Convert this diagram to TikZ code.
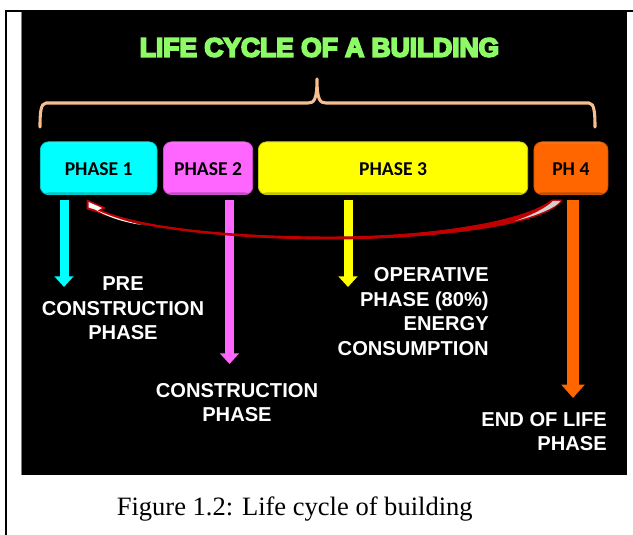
\documentclass[tikz,border=0pt]{standalone}
\usepackage{fontspec}
\setmainfont{Liberation Serif}
\newfontfamily\labelfont{Liberation Sans}
\newfontfamily\boxfont{Carlito}
\newfontfamily\titlefont[BoldFeatures={FakeBold=7}]{Liberation Sans}
\usetikzlibrary{arrows.meta,positioning}
\definecolor{cyanbox}{HTML}{00FFFF}
\definecolor{pinkbox}{HTML}{FF66FF}
\definecolor{yellowbox}{HTML}{FFFF00}
\definecolor{orangebox}{HTML}{FF6600}
\definecolor{titlegreen}{HTML}{8CFB66}
\definecolor{bracecol}{HTML}{F9BE8D}
\definecolor{curvered}{HTML}{C00000}
\tikzset{
  x=0.75pt,y=-0.75pt,
  phasebox/.style={draw=#1!80!black,line width=0.6pt,fill=#1,rounded corners=6pt,
    minimum height=39.5pt,inner sep=0pt,anchor=north west,text=black,
    path picture={
      \fill[#1!75!black] ([yshift=1.6pt]path picture bounding box.south west) rectangle (path picture bounding box.south east);
      \fill[#1!80!white] ([yshift=-1.2pt]path picture bounding box.north west) rectangle (path picture bounding box.north east);
    },
    font=\boxfont\bfseries\fontsize{14.7}{17}\selectfont},
  downarrow/.style={draw=#1,line width=6.75pt,
    -{Triangle[length=8pt,width=14pt,fill=#1]}},
  widearrow/.style={draw=#1,line width=9pt,
    -{Triangle[length=10pt,width=17pt,fill=#1]}},
  whitelabel/.style={text=white,inner sep=0pt,
    font=\labelfont\bfseries\fontsize{15.1}{18.4}\selectfont},
  bracestroke/.style={draw=bracecol,line width=2.3pt,line cap=round,line join=round},
}
\newcommand{\lowered}[1]{\raisebox{-0.75pt}[\height][\depth]{#1}}
\begin{document}
\begin{tikzpicture}
\useasboundingbox (0,0) rectangle (633,535);
\fill[white] (0,0) rectangle (633,535);
\fill[black] (5,10) rectangle (633,12);
\fill[black] (5,10) rectangle (7,535);
\fill[black] (21.5,10) rectangle (627,475);
\draw[gray,line width=0.5pt] (21.5,12) -- (21.5,475);
\node[text=titlegreen,inner sep=0pt,font=\titlefont\bfseries\fontsize{19.8}{22}\selectfont] (title) at (319.5,47.5) {LIFE CYCLE OF A BUILDING};
\coordinate (bl) at (40,127);
\coordinate (br) at (595,127);
\coordinate (bt) at (317,79);
\draw[bracestroke] (bl) .. controls (40,114) and (40.5,103) .. (46,103) -- (308,103)
  .. controls (314,103) and (317,100) .. (bt) .. controls (317,100) and (320,103) .. (326,103)
  -- (589,103) .. controls (594.5,103) and (595,114) .. (br);
\node[phasebox=cyanbox,minimum width=87.5pt] (p1) at (40,141.5) {\lowered{PHASE 1}};
\node[phasebox=pinkbox,minimum width=67pt] (p2) at (163,141.5) {\lowered{PHASE 2}};
\node[phasebox=yellowbox,minimum width=202pt] (p3) at (258,141.5) {\lowered{PHASE 3}};
\node[phasebox=orangebox,minimum width=55.5pt] (p4) at (533.5,141.5) {\lowered{PH 4}};
\coordinate (c1s) at (64,200);
\coordinate (c1e) at (64,287);
\coordinate (c2s) at (229.5,200);
\coordinate (c2e) at (229.5,364);
\coordinate (c3s) at (348,200);
\coordinate (c3e) at (348,287);
\coordinate (c4s) at (573,200);
\coordinate (c4e) at (573,398);
\draw[downarrow=cyanbox] (c1s) -- (c1e);
\draw[downarrow=pinkbox] (c2s) -- (c2e);
\draw[downarrow=yellowbox] (c3s) -- (c3e);
\draw[widearrow=orangebox] (c4s) -- (c4e);
% curved arrow
\coordinate (tip) at (87,200);
\coordinate (tail) at (562,200);
\filldraw[draw=curvered,fill=curvered,line width=0.7pt,line join=round]
  (tip) -- (105,208) -- (100,210) .. controls (135,226) and (220,237) .. (330,237)
  .. controls (430,237) and (525,222) .. (552,200) -- (tail)
  .. controls (545,226) and (430,239) .. (330,239)
  .. controls (220,239) and (130,226) .. (95,211) -- (87,209) -- cycle;
\fill[white] (88.5,202) -- (102,208) -- (97.5,210.5) .. controls (112,217) and (125,221) .. (142,225)
  .. controls (122,222) and (108,217) .. (95,209.5) -- (88.5,207.5) -- cycle;
\fill[white!82!black] (553,201) -- (560.5,201) .. controls (558,206) and (540,215) .. (515,221)
  .. controls (532,215) and (546,208) .. (553,201) -- cycle;
\node[whitelabel,align=center] (l1) at (123,308.5) {PRE\\CONSTRUCTION\\PHASE};
\node[whitelabel,align=center] (l2) at (237,402.5) {CONSTRUCTION\\PHASE};
\node[whitelabel,align=right,anchor=east] (l3) at (489,311.5) {OPERATIVE\\PHASE (80\%)\\ENERGY\\CONSUMPTION};
\node[whitelabel,align=right,anchor=east] (l4) at (607,431.5) {END OF LIFE\\PHASE};
\node[inner sep=0pt,anchor=west,text=black,font=\fontsize{19.9}{22}\selectfont] (cap) at (116.5,509) {Figure 1.2: Life cycle of building};
\end{tikzpicture}
\end{document}
